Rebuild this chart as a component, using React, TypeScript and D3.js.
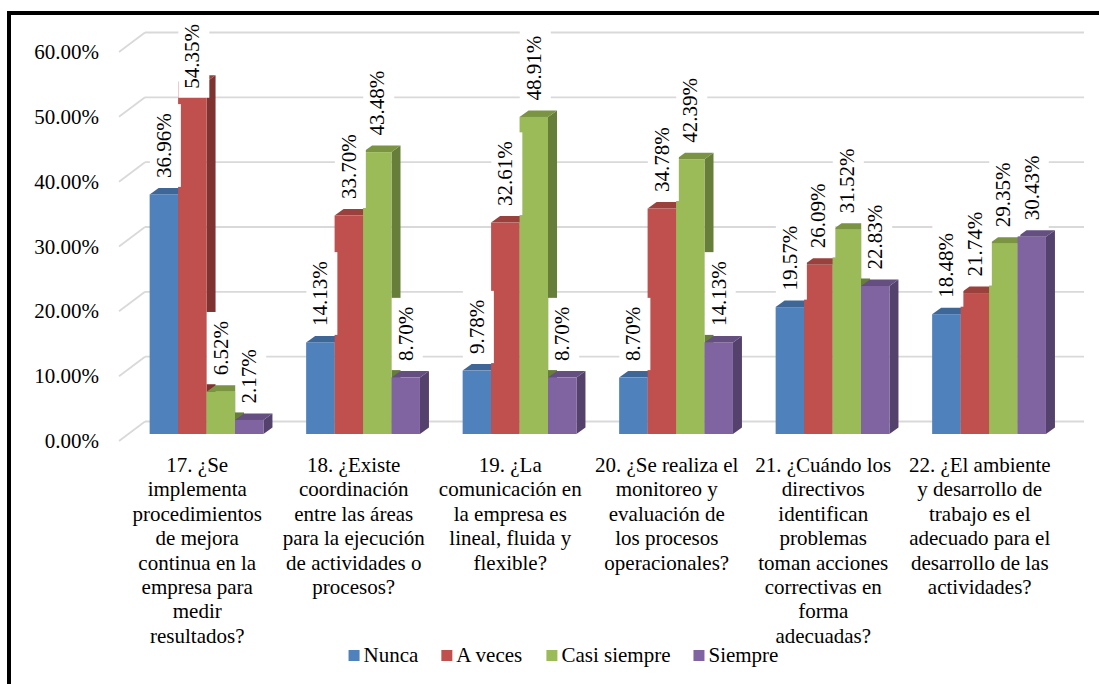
import React from 'react';
import * as d3 from 'd3';

// categories (questions) and their wrapped tick-label lines
const categories = ['17', '18', '19', '20', '21', '22'];
const categoryLines = [
  ['17. ¿Se', 'implementa', 'procedimientos', 'de mejora', 'continua en la', 'empresa para', 'medir', 'resultados?'],
  ['18. ¿Existe', 'coordinación', 'entre las áreas', 'para la ejecución', 'de actividades o', 'procesos?'],
  ['19. ¿La', 'comunicación en', 'la empresa es', 'lineal, fluida y', 'flexible?'],
  ['20. ¿Se realiza el', 'monitoreo y', 'evaluación de', 'los procesos', 'operacionales?'],
  ['21. ¿Cuándo los', 'directivos', 'identifican', 'problemas', 'toman acciones', 'correctivas en', 'forma', 'adecuadas?'],
  ['22. ¿El ambiente', 'y desarrollo de', 'trabajo es el', 'adecuado para el', 'desarrollo de las', 'actividades?'],
];

const seriesNames = ['Nunca', 'A veces', 'Casi siempre', 'Siempre'];
const nunca = [0.3696, 0.1413, 0.0978, 0.087, 0.1957, 0.1848];
const aVeces = [0.5435, 0.337, 0.3261, 0.3478, 0.2609, 0.2174];
const casiSiempre = [0.0652, 0.4348, 0.4891, 0.4239, 0.3152, 0.2935];
const siempre = [0.0217, 0.087, 0.087, 0.1413, 0.2283, 0.3043];
const yTicks = [0, 0.1, 0.2, 0.3, 0.4, 0.5, 0.6];

const seriesValues = [nunca, aVeces, casiSiempre, siempre];
// front, top, side shades
const colors = [
  ['#4F81BD', '#3E6797', '#385D8A'],
  ['#C0504D', '#9A403D', '#7E3331'],
  ['#9BBB59', '#7A9442', '#677E3A'],
  ['#8064A2', '#654E80', '#54416C'],
];

const FS = 21;
const TS = { fontFamily: 'Liberation Serif', fontSize: FS };

let ctx: CanvasRenderingContext2D | null = null;
const measure = (t: string) => {
  if (!ctx) {
    ctx = document.createElement('canvas').getContext('2d');
  }
  if (!ctx) return t.length * FS * 0.5;
  ctx.font = `${FS}px Liberation Serif`;
  return ctx.measureText(t).width;
};

export default function App() {
  const W = 1099;
  const H = 684;

  // floor front edge and 3D offsets
  const left = 119;
  const plotW = 939;
  const floorY = 441;
  const wall = { dx: 26, dy: -19.5 };
  const barPlane = { dx: 9.3, dy: -7 };
  const depth = { dx: 9, dy: -6.5 };

  const y = d3.scaleLinear().domain([0, 0.6]).range([floorY, 52]);
  const x0 = d3.scaleBand<string>().domain(categories).range([left, left + plotW]);
  const x1 = d3.scaleBand<string>().domain(seriesNames).range([0, x0.bandwidth()]).paddingOuter(0.75);
  const bw = x1.bandwidth();
  const fmt = d3.format('.2%');

  const bars: any[] = [];
  categories.forEach((c, ci) => {
    seriesNames.forEach((s, si) => {
      const v = seriesValues[si][ci];
      const bx = (x0(c) as number) + (x1(s) as number) + barPlane.dx;
      const by = y(v) + barPlane.dy;
      const base = floorY + barPlane.dy;
      bars.push({ c, s, si, v, bx, by, base });
    });
  });

  // legend layout
  const sq = 11;
  const items = seriesNames.map((s) => ({ s, w: sq + 4 + measure(s) }));
  const gap = 23;
  const totalW = d3.sum(items, (d) => d.w) + gap * (items.length - 1);
  let lx = 563.5 - totalW / 2;
  const legend = items.map((it, i) => {
    const o = { ...it, x: lx, i };
    lx += it.w + gap;
    return o;
  });

  return (
    <svg width={W} height={H} style={{ position: 'fixed', left: 0, top: 0, background: '#fff' }}>
      <rect x={0} y={0} width={W} height={H} fill="#fff" />

      {/* gridlines on back wall with diagonal side-wall lines */}
      <g stroke="#D9D9D9" strokeWidth={1.8} fill="none">
        {yTicks.map((t) => (
          <g key={t}>
            <line x1={left} y1={y(t)} x2={left + wall.dx} y2={y(t) + wall.dy} />
            <line x1={left + wall.dx} y1={y(t) + wall.dy} x2={left + plotW + wall.dx} y2={y(t) + wall.dy} />
          </g>
        ))}
      </g>

      {/* y tick labels */}
      {yTicks.map((t) => (
        <text key={t} x={99} y={y(t) + 7} style={TS} fill="#000" textAnchor="end">
          {fmt(t)}
        </text>
      ))}

      {/* 3D bars */}
      {bars.map((b, i) => {
        const [front, top, side] = colors[b.si];
        const { bx, by, base } = b;
        return (
          <g key={i}>
            <polygon
              fill={side}
              points={`${bx + bw},${by} ${bx + bw + depth.dx},${by + depth.dy} ${bx + bw + depth.dx},${base + depth.dy} ${bx + bw},${base}`}
            />
            <polygon
              fill={top}
              points={`${bx},${by} ${bx + depth.dx},${by + depth.dy} ${bx + bw + depth.dx},${by + depth.dy} ${bx + bw},${by}`}
            />
            <rect x={bx} y={by} width={bw} height={base - by} fill={front} />
          </g>
        );
      })}

      {/* data labels with white boxes */}
      {bars.map((b, i) => {
        const label = fmt(b.v);
        const tw = measure(label);
        const bh = tw + 18;
        const cx = b.bx + bw / 2;
        let bottom = b.by + depth.dy - 1;
        let topY = bottom - bh;
        if (topY < 15) {
          topY = 15;
          bottom = topY + bh;
        }
        const cy = (topY + bottom) / 2;
        return (
          <g key={'l' + i}>
            <rect x={cx - 14} y={topY} width={31} height={bh} fill="#fff" />
            <text
              transform={`translate(${cx},${cy}) rotate(-90)`}
              textAnchor="middle"
              dy="0.33em"
              style={TS}
              fill="#000"
            >
              {label}
            </text>
          </g>
        );
      })}

      {/* category labels */}
      {categories.map((c, ci) => {
        const cx = (x0(c) as number) + x0.bandwidth() / 2;
        return categoryLines[ci].map((ln, li) => (
          <text key={c + li} x={cx} y={472 + li * 24.4} style={TS} fill="#000" textAnchor="middle">
            {ln}
          </text>
        ));
      })}

      {/* legend */}
      {legend.map((l) => (
        <g key={l.s}>
          <rect x={l.x} y={650} width={sq} height={sq} fill={colors[l.i][0]} />
          <text x={l.x + sq + 4} y={662} style={TS} fill="#000">
            {l.s}
          </text>
        </g>
      ))}

      {/* outer frame */}
      <rect x={9} y={13} width={1300} height={900} fill="none" stroke="#000" strokeWidth={4} />
    </svg>
  );
}
